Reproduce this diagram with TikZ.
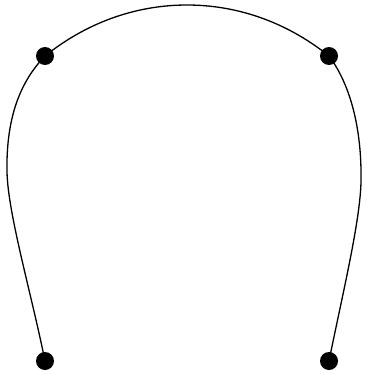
\documentclass[tikz,border=0pt]{standalone}
\usepackage{tikz}
\tikzset{
  dot/.style ={circle, fill=black, inner sep=0pt, minimum size=18pt},
  crv/.style ={draw=black, line width=1.3pt},
}
\begin{document}
\begin{tikzpicture}[x=1pt,y=-1pt]
\useasboundingbox (0,0) rectangle (367,375);
\node[dot] (bl) at (45,361) {};
\node[dot] (tl) at (45,56)  {};
\node[dot] (tr) at (329,56) {};
\node[dot] (br) at (329,361) {};
\draw[crv] (bl.center) .. controls (31,292) and (8,214) .. (7,172)
  .. controls (6,118) and (20,82) .. (tl.center)
  .. controls (90,20) and (140,5) .. (187,5)
  .. controls (234,5) and (284,20) .. (tr.center)
  .. controls (350,84) and (362,128) .. (361,182)
  .. controls (360,222) and (343,292) .. (br.center);
\end{tikzpicture}
\end{document}
